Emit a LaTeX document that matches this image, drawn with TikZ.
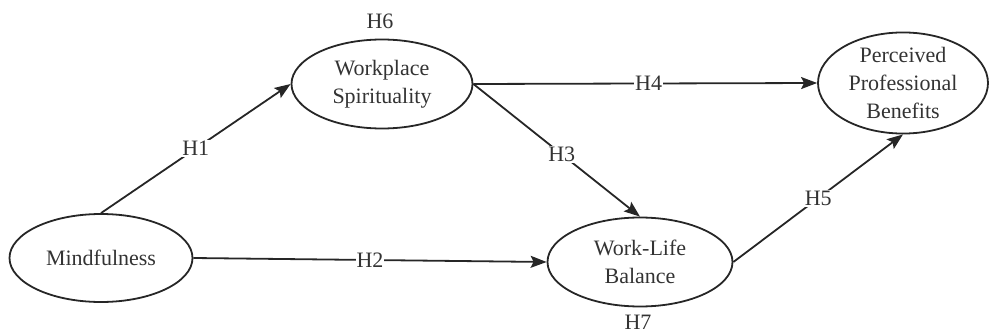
\documentclass[tikz,border=0pt]{standalone}
\usepackage{fontspec}
\setmainfont{Liberation Serif}
\usetikzlibrary{shapes.geometric,arrows.meta}
\begin{document}
\begin{tikzpicture}[x=1pt,y=-1pt,
  construct/.style={draw=black!85,line width=1.8pt,ellipse,inner sep=0pt,
    align=center,font=\fontsize{22}{28}\selectfont,text=black!80},
  path/.style={draw=black!85,line width=1.8pt,-{Stealth[length=16pt,width=12pt,inset=3pt]}},
  hyp/.style={fill=white,inner sep=1pt,font=\fontsize{22}{26}\selectfont,text=black!80},
  hlab/.style={inner sep=0pt,font=\fontsize{22}{26}\selectfont,text=black!80}]
\useasboundingbox (0,0) rectangle (993,334);
\node[construct,minimum width=183pt,minimum height=88pt] (mind) at (101,258) {Mindfulness};
\node[construct,minimum width=181pt,minimum height=89pt] (wps) at (382,84) {Workplace\\Spirituality};
\node[construct,minimum width=185pt,minimum height=89pt] (wlb) at (640,262) {Work-Life\\Balance};
\node[construct,minimum width=170pt,minimum height=90pt] (ppb) at (903,83) {Perceived\\Professional\\Benefits};
\node[hlab] (h6) at (380,21) {H6};
\node[hlab] (h7) at (638,322) {H7};
\draw[path] (mind.north) -- node[hyp] {H1} (wps.west);
\draw[path] (mind.east) -- node[hyp] {H2} (wlb.west);
\draw[path] (wps.east) -- node[hyp,pos=0.53] {H3} (wlb.north);
\draw[path] (wps.east) -- node[hyp,pos=0.51] {H4} (ppb.west);
\draw[path] (wlb.east) -- node[hyp] {H5} (ppb.south);
\end{tikzpicture}
\end{document}
